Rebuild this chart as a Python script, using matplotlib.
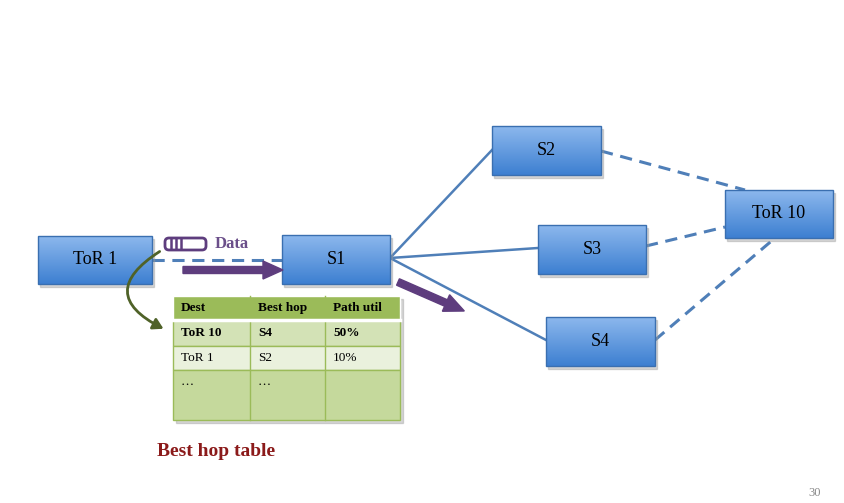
import numpy as np
import matplotlib.pyplot as plt
from matplotlib.patches import Rectangle, FancyBboxPatch, FancyArrowPatch, FancyArrow

# nodes: name -> (x0, y0, x1, y1) in pixel coordinates
node_names = ["ToR 1", "S1", "S2", "S3", "S4", "ToR 10"]
node_boxes = [(38, 236, 152, 284), (282, 235, 390, 284), (492, 126, 601, 175),
              (538, 225, 646, 274), (546, 317, 655, 366), (725, 190, 833, 238)]
solid_links = [((390, 258), (492, 150)), ((390, 258), (538, 248)), ((390, 258), (546, 340))]
dashed_links = [((152, 260), (282, 260)), ((601, 151), (745, 190)),
                ((646, 246), (725, 227)), ((655, 340), (775, 238))]

table_cols = ["Dest", "Best hop", "Path util"]
table_rows = [["ToR 10", "S4", "50%"], ["ToR 1", "S2", "10%"], ["\u2026", "\u2026", ""]]
col_x = [173, 250, 325, 400]
row_y = [296, 320, 346, 370, 420]
row_colors = ["#9bbb59", "#d3e2b6", "#eaf1dd", "#c5d99c"]

fig = plt.figure(figsize=(8.45, 5.03), dpi=100)
ax = fig.add_axes([0, 0, 1, 1])
ax.set_xlim(0, 845)
ax.set_ylim(503, 0)
ax.axis("off")
serif = "Liberation Serif"

for (a, b) in solid_links:
    ax.plot([a[0], b[0]], [a[1], b[1]], color="#4f7fb8", lw=1.8, zorder=1)
for (a, b) in dashed_links:
    ax.plot([a[0], b[0]], [a[1], b[1]], color="#4f7fb8", lw=2.2, ls=(0, (4, 2.5)), zorder=1)

grad = np.linspace(0, 1, 64).reshape(-1, 1)
top = np.array([0.55, 0.72, 0.93])
bot = np.array([0.24, 0.50, 0.82])
img = (top * (1 - grad[..., None]) + bot * grad[..., None])
for name, (x0, y0, x1, y1) in zip(node_names, node_boxes):
    sh = Rectangle((x0 + 2, y0 + 3), x1 - x0, y1 - y0, color="#999999", alpha=0.4, zorder=2)
    ax.add_patch(sh)
    r = Rectangle((x0, y0), x1 - x0, y1 - y0, fc="none", ec="#3a6fb0", lw=1, zorder=4)
    ax.add_patch(r)
    im = ax.imshow(img, extent=(x0, x1, y1, y0), aspect="auto", zorder=3)
    im.set_clip_path(r)
    ax.text((x0 + x1) / 2, (y0 + y1) / 2, name, ha="center", va="center",
            fontsize=13, family=serif, zorder=5)
ax.set_xlim(0, 845)
ax.set_ylim(503, 0)

# purple arrows
ax.add_patch(FancyArrow(183, 270, 80, 0, width=7, head_width=18, head_length=20,
                        length_includes_head=False, color="#5e3d7e", zorder=5))
ax.add_patch(FancyArrow(398, 282, 48, 21, width=7, head_width=18, head_length=20,
                        color="#5e3d7e", zorder=5))

# packet icon
ax.add_patch(FancyBboxPatch((165, 238), 41, 12, boxstyle="round,pad=0,rounding_size=4",
                            fc="white", ec="#5e3d7e", lw=2, zorder=6))
for bx in (171, 176, 181):
    ax.plot([bx, bx], [239, 249], color="#5e3d7e", lw=1.8, zorder=7)
ax.text(215, 244, "Data", color="#6b4f8a", fontsize=12, fontweight="bold",
        family=serif, va="center")

# green curved arrow
ax.add_patch(FancyArrowPatch((162, 250), (166, 330), connectionstyle="arc3,rad=0.9",
                             arrowstyle="-|>,head_length=6,head_width=3.5",
                             color="#4f6228", lw=2, zorder=6))

# table
ax.add_patch(Rectangle((col_x[0] + 3, row_y[0] + 3), col_x[-1] - col_x[0], row_y[-1] - row_y[0],
                       color="#999999", alpha=0.4, zorder=2))
for i in range(4):
    ax.add_patch(Rectangle((col_x[0], row_y[i]), col_x[-1] - col_x[0], row_y[i + 1] - row_y[i],
                           fc=row_colors[i], ec="white" if i == 0 else "#9bbb59", lw=1, zorder=3))
for cx in col_x[1:-1]:
    ax.plot([cx, cx], [row_y[0], row_y[-1]], color="#9bbb59", lw=1, zorder=4)
ax.plot([col_x[0], col_x[-1]], [row_y[1], row_y[1]], color="white", lw=2.5, zorder=4)
for j, h in enumerate(table_cols):
    ax.text(col_x[j] + 8, (row_y[0] + row_y[1]) / 2, h, fontsize=9.5, fontweight="bold",
            family=serif, va="center", zorder=5)
for i, row in enumerate(table_rows):
    yc = (row_y[i + 1] + row_y[i + 2]) / 2 if i < 2 else row_y[3] + 12
    for j, v in enumerate(row):
        ax.text(col_x[j] + 8, yc, v, fontsize=9.5, family=serif, va="center",
                fontweight="bold" if i == 0 else "normal", zorder=5)

ax.text(157, 451, "Best hop table", color="#8b1a1a", fontsize=14, fontweight="bold",
        family=serif, va="center")
ax.text(808, 493, "30", color="#888888", fontsize=9, family=serif, va="center")

fig.savefig("out.png", dpi=100)
